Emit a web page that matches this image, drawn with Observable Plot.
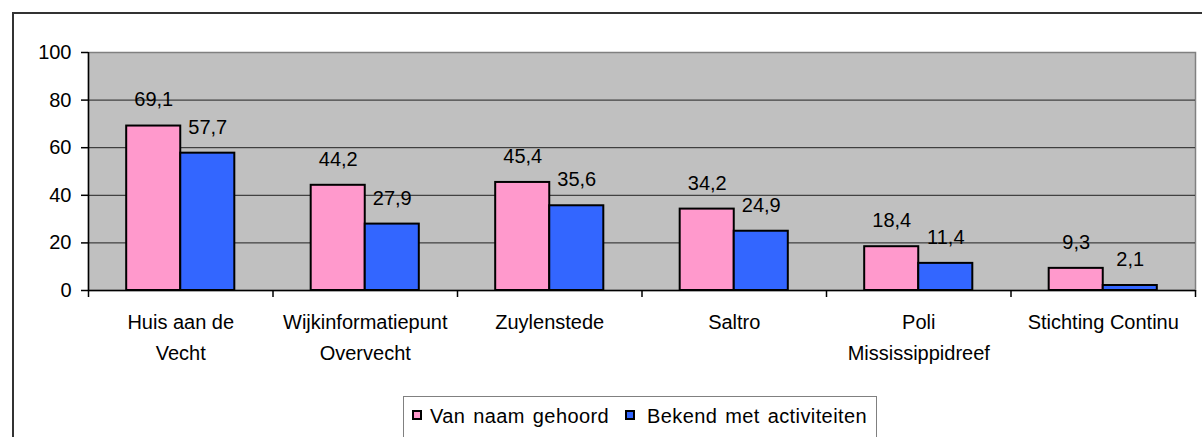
<!DOCTYPE html>
<html>
<head>
<meta charset="utf-8">
<script src="https://cdn.jsdelivr.net/npm/d3@7"></script>
<script src="https://cdn.jsdelivr.net/npm/@observablehq/plot@0.6"></script>
<style>
  body { margin: 0; background: #fff; font-family: "Liberation Sans", Arial, sans-serif; }
  #wrap { position: relative; width: 1202px; height: 437px; overflow: hidden; }
  #border { position: absolute; left: 12px; top: 12px; width: 1200px; height: 440px;
            border-left: 2px solid #333; border-top: 2px solid #333; }
  #chart { position: absolute; left: 0; top: 0; }
  #legend { position: absolute; left: 403px; top: 396px; width: 472px; height: 60px;
            border: 1px solid #808080; background: #fff; font-size: 20px; color: #000; }
  .sw { position: absolute; top: 13px; width: 6px; height: 6px; border: 2px solid #000; }
  .lt { position: absolute; top: 7px; line-height: 24px; white-space: nowrap; letter-spacing: 0.4px; word-spacing: 2px; }
</style>
</head>
<body>
<div id="wrap">
  <div id="border"></div>
  <div id="chart"></div>
  <div id="legend"></div>
</div>
<script>
const categories = ["Huis aan de\nVecht", "Wijkinformatiepunt\nOvervecht", "Zuylenstede", "Saltro", "Poli\nMississippidreef", "Stichting Continu"];
const seriesNames = ["Van naam gehoord", "Bekend met activiteiten"];
const vanNaamGehoord = [69.1, 44.2, 45.4, 34.2, 18.4, 9.3];
const bekendMetActiviteiten = [57.7, 27.9, 35.6, 24.9, 11.4, 2.1];
const yTicks = [0, 20, 40, 60, 80, 100];
const seriesColors = ["#FF99CC", "#3366FF"];

const seriesValues = [vanNaamGehoord, bekendMetActiviteiten];
const rows = categories.flatMap((c, i) => seriesNames.map((s, k) => ({cat: c, i, k, s, v: seriesValues[k][i]})));
const barW = 0.293; // bar width as fraction of a category slot
const fmt = v => v.toFixed(1).replace(".", ",");

const chart = Plot.plot({
  width: 1202, height: 380,
  marginLeft: 88, marginRight: 7, marginTop: 52, marginBottom: 90,
  style: {fontFamily: '"Liberation Sans", Arial, sans-serif', fontSize: "20px", color: "#000", background: "transparent", overflow: "visible"},
  x: {domain: [0, categories.length], axis: null},
  y: {domain: [0, 100], axis: null},
  color: {domain: seriesNames, range: seriesColors},
  marks: [
    Plot.frame({fill: "#C0C0C0", stroke: "#808080", strokeWidth: 1.5}),
    Plot.ruleY(yTicks.filter(t => t > 0 && t < 100), {stroke: "#222", strokeWidth: 1}),
    Plot.rectY(rows, {
      x1: d => d.i + 0.5 + (d.k - 1) * barW,
      x2: d => d.i + 0.5 + d.k * barW,
      y1: 0, y2: "v", fill: "s", stroke: "#000", strokeWidth: 2
    }),
    Plot.text(rows, {
      x: d => d.i + 0.5 + (d.k - 0.5) * barW,
      y: "v", text: d => fmt(d.v), dy: -26, fill: "#000", fontSize: 20
    }),
    Plot.ruleX([0], {y1: 0, y2: 100, stroke: "#000", strokeWidth: 1.5}),
    Plot.ruleY([0], {stroke: "#000", strokeWidth: 1.5}),
    Plot.ruleX(d3.range(categories.length + 1), {y1: 0, y2: 0, insetBottom: -7, stroke: "#000", strokeWidth: 1.5}),
    Plot.axisY({ticks: yTicks, tickSize: 7, tickPadding: 10, fontSize: 20, label: null, stroke: "#000", strokeWidth: 1.5}),
    Plot.text(categories, {
      x: (d, i) => i + 0.5, y: 0, text: d => d,
      lineAnchor: "top", dy: 16, lineHeight: 1.55, fontSize: 20, fill: "#000"
    })
  ]
});
document.getElementById("chart").appendChild(chart);

const legend = document.getElementById("legend");
const swLeft = [8, 221];
const txLeft = [26, 243];
seriesNames.forEach((s, k) => {
  const sw = document.createElement("div");
  sw.className = "sw";
  sw.style.left = swLeft[k] + "px";
  sw.style.background = seriesColors[k];
  legend.appendChild(sw);
  const t = document.createElement("div");
  t.className = "lt";
  t.style.left = txLeft[k] + "px";
  t.textContent = s;
  legend.appendChild(t);
});
</script>
</body>
</html>
